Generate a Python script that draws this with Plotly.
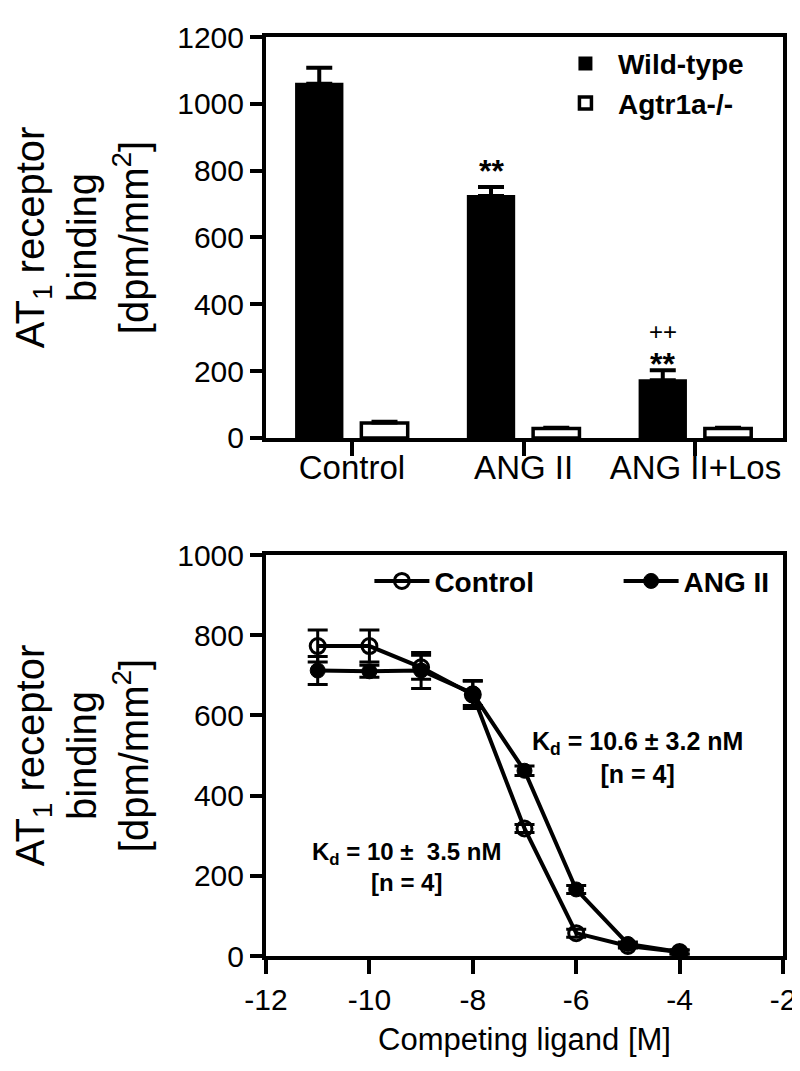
import plotly.graph_objects as go

# ---- Top panel data (bar chart) ----
groups = ["Control", "ANG II", "ANG II+Los"]
group_pos = [0, 1, 2]
wt_vals = [1060, 724, 173]
wt_err = [48, 27, 30]
ko_vals = [45, 28, 28]
ko_err = [5, 4, 4]
star_pos = [1, 2]
star_y = [800, 222]
plus_pos = [2]
plus_y = [318]

# ---- Bottom panel data (competition curves) ----
log_conc = [-11, -10, -9, -8, -7, -6, -5, -4]
ctrl_vals = [773, 773, 720, 652, 318, 57, 25, 10]
ctrl_err = [40, 40, 30, 35, 10, 10, 5, 5]
ang_vals = [712, 710, 712, 655, 462, 166, 30, 10]
ang_err = [35, 15, 45, 30, 12, 10, 5, 5]
x2_tickvals = [-12, -10, -8, -6, -4, -2]
x2_ticktext = ["-12", "-10", "-8", "-6", "-4", "-2"]

FONT = "Liberation Sans"
ytitle = "AT<sub>1</sub> receptor<br>binding<br>[dpm/mm<sup>2</sup>]"

fig = go.Figure()

fig.add_trace(go.Bar(
    x=group_pos, y=wt_vals, name="Wild-type", xaxis="x", yaxis="y", legend="legend",
    marker=dict(color="black", line=dict(color="black", width=2)),
    error_y=dict(type="data", array=wt_err, arrayminus=[0] * len(wt_err), symmetric=False,
                 color="black", thickness=4, width=13),
))
fig.add_trace(go.Bar(
    x=group_pos, y=ko_vals, name="Agtr1a-/-", xaxis="x", yaxis="y", legend="legend",
    marker=dict(color="white", line=dict(color="black", width=3.5)),
    error_y=dict(type="data", array=ko_err, arrayminus=[0] * len(ko_err), symmetric=False,
                 color="black", thickness=3, width=13),
))

fig.add_trace(go.Scatter(
    x=log_conc, y=ctrl_vals, name="Control", mode="lines+markers", xaxis="x2", yaxis="y2",
    legend="legend2",
    line=dict(color="black", width=4),
    marker=dict(symbol="circle-open", size=15, color="black", line=dict(width=3, color="black")),
    error_y=dict(type="data", array=ctrl_err, color="black", thickness=3, width=10),
))
fig.add_trace(go.Scatter(
    x=log_conc, y=ang_vals, name="ANG II", mode="lines+markers", xaxis="x2", yaxis="y2",
    legend="legend3",
    line=dict(color="black", width=4),
    marker=dict(symbol="circle", size=15, color="black", line=dict(width=1, color="black")),
    error_y=dict(type="data", array=ang_err, color="black", thickness=3, width=10),
))

annotations = []
bar_offset = 0.19
for p, yv in zip(star_pos, star_y):
    annotations.append(dict(x=p - bar_offset, y=yv, xref="x", yref="y", text="<b>**</b>",
                            showarrow=False, font=dict(size=32, family=FONT, color="black"),
                            yanchor="middle"))
for p, yv in zip(plus_pos, plus_y):
    annotations.append(dict(x=p - bar_offset, y=yv, xref="x", yref="y", text="++",
                            showarrow=False, font=dict(size=24, family=FONT, color="black"),
                            yanchor="middle"))
annotations.append(dict(x=-4.82, y=494, xref="x2", yref="y2",
                        text="<b>K<sub>d</sub> = 10.6 ± 3.2 nM<br>[n = 4]</b>",
                        showarrow=False, font=dict(size=25, family=FONT, color="black")))
annotations.append(dict(x=-9.28, y=222, xref="x2", yref="y2",
                        text="<b>K<sub>d</sub> = 10 ±\u00a0 3.5 nM<br>[n = 4]</b>",
                        showarrow=False, font=dict(size=24, family=FONT, color="black")))

axis_common = dict(showline=True, linewidth=4, linecolor="black", mirror=True,
                   ticks="outside", tickwidth=4, tickcolor="black",
                   showgrid=False, zeroline=False)

legend_font = dict(size=28, family=FONT, weight="bold")

fig.update_layout(
    width=800, height=1071,
    margin=dict(l=258, r=19, t=29, b=123),
    paper_bgcolor="white", plot_bgcolor="white",
    font=dict(family=FONT, color="black"),
    barmode="group", bargap=0.24, bargroupgap=0.29,
    xaxis=dict(domain=[0, 1], anchor="y", range=[-0.5, 2.51], tickvals=group_pos,
               ticktext=groups, ticklen=14, tickfont=dict(size=33),
               ticklabelstandoff=-17, **axis_common),
    yaxis=dict(domain=[0.5637, 1], anchor="x", range=[0, 1200], dtick=200, ticklen=12,
               tickfont=dict(size=30),
               title=dict(text=ytitle, font=dict(size=40), standoff=22), **axis_common),
    xaxis2=dict(domain=[0, 1], anchor="y2", range=[-12, -2], tickvals=x2_tickvals,
                ticktext=x2_ticktext, ticklen=14, tickfont=dict(size=30),
                title=dict(text="Competing ligand [M]", font=dict(size=31), standoff=14),
                **axis_common),
    yaxis2=dict(domain=[0, 0.4363], anchor="x2", range=[0, 1000], dtick=200, ticklen=12,
                tickfont=dict(size=30),
                title=dict(text=ytitle, font=dict(size=40), standoff=22), **axis_common),
    legend=dict(x=0.555, y=0.998, xanchor="left", yanchor="top",
                font=legend_font, bgcolor="rgba(0,0,0,0)", itemwidth=55),
    legend2=dict(x=0.20, y=0.435, xanchor="left", yanchor="top",
                 font=legend_font, bgcolor="rgba(0,0,0,0)", itemwidth=55),
    legend3=dict(x=0.682, y=0.435, xanchor="left", yanchor="top",
                 font=legend_font, bgcolor="rgba(0,0,0,0)", itemwidth=55),
    annotations=annotations,
    showlegend=True,
)

fig.write_html("out.html")
